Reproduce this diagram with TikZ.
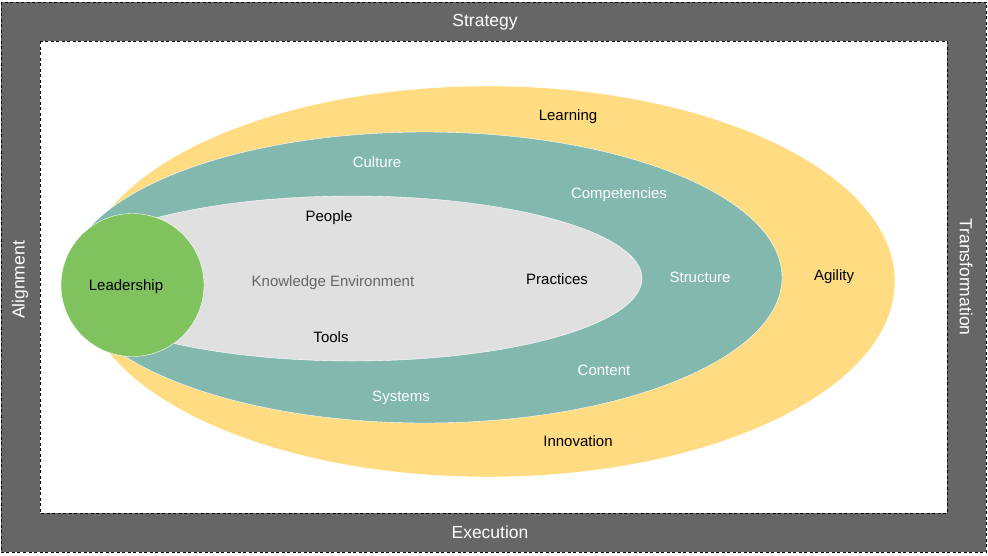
\documentclass[tikz,border=0pt]{standalone}
\usepackage{fontspec}
\setmainfont{Liberation Sans}
\usepackage{tikz}

\definecolor{framegray}{HTML}{666666}
\definecolor{learnyellow}{HTML}{FFDC82}
\definecolor{cultureteal}{HTML}{83B8AE}
\definecolor{knowgray}{HTML}{E0E0E0}
\definecolor{leadgreen}{HTML}{80C35E}
\definecolor{knowtext}{HTML}{666666}

\begin{document}
\begin{tikzpicture}[x=1pt,y=-1pt,
	label/.style={font=\fontsize{15}{18}\selectfont, inner sep=0pt},
	framelabel/.style={font=\fontsize{17.5}{21}\selectfont, inner sep=0pt, text=white},
	whitelabel/.style={label, text=white},
	blacklabel/.style={label, text=black},
	rim/.style={draw=black, line width=1pt, dash pattern=on 3pt off 2.5pt}]
	\useasboundingbox (0,0) rectangle (988,555);
	%frame
	\draw[rim, fill=framegray] (1,2) rectangle (986,552);
	\draw[rim, fill=white] (40,41) rectangle (947,513);
	%rings
	\draw[white, fill=learnyellow] (488,281.5) ellipse [x radius=407, y radius=195.5];
	\draw[white, fill=cultureteal] (425,277.5) ellipse [x radius=357, y radius=145.5];
	\draw[white, fill=knowgray] (352.5,278.5) ellipse [x radius=289.5, y radius=82.5];
	\draw[white, fill=leadgreen] (132.5,285) circle [radius=71.5];
	%frame labels
	\node[framelabel] (strategy) at (485,22) {Strategy};
	\node[framelabel] (execution) at (490,532) {Execution};
	\node[framelabel, rotate=90] (alignment) at (20,280) {Alignment};
	\node[framelabel, rotate=-90] (transformation) at (966,277) {Transformation};
	%ring labels
	\node[blacklabel] (learning) at (568,117) {Learning};
	\node[blacklabel] (agility) at (834,277) {Agility};
	\node[blacklabel] (innovation) at (578,441) {Innovation};
	\node[whitelabel] (culture) at (377,162) {Culture};
	\node[whitelabel] (competencies) at (619,195) {Competencies};
	\node[whitelabel] (structure) at (700,277) {Structure};
	\node[whitelabel] (content) at (604,370) {Content};
	\node[whitelabel] (systems) at (401,398) {Systems};
	\node[blacklabel] (people) at (329,218) {People};
	\node[label, text=knowtext] (knowledge) at (333,283) {Knowledge Environment};
	\node[blacklabel] (practices) at (557,279) {Practices};
	\node[blacklabel] (tools) at (331,337) {Tools};
	\node[blacklabel] (leadership) at (126,287) {Leadership};
\end{tikzpicture}
\end{document}
